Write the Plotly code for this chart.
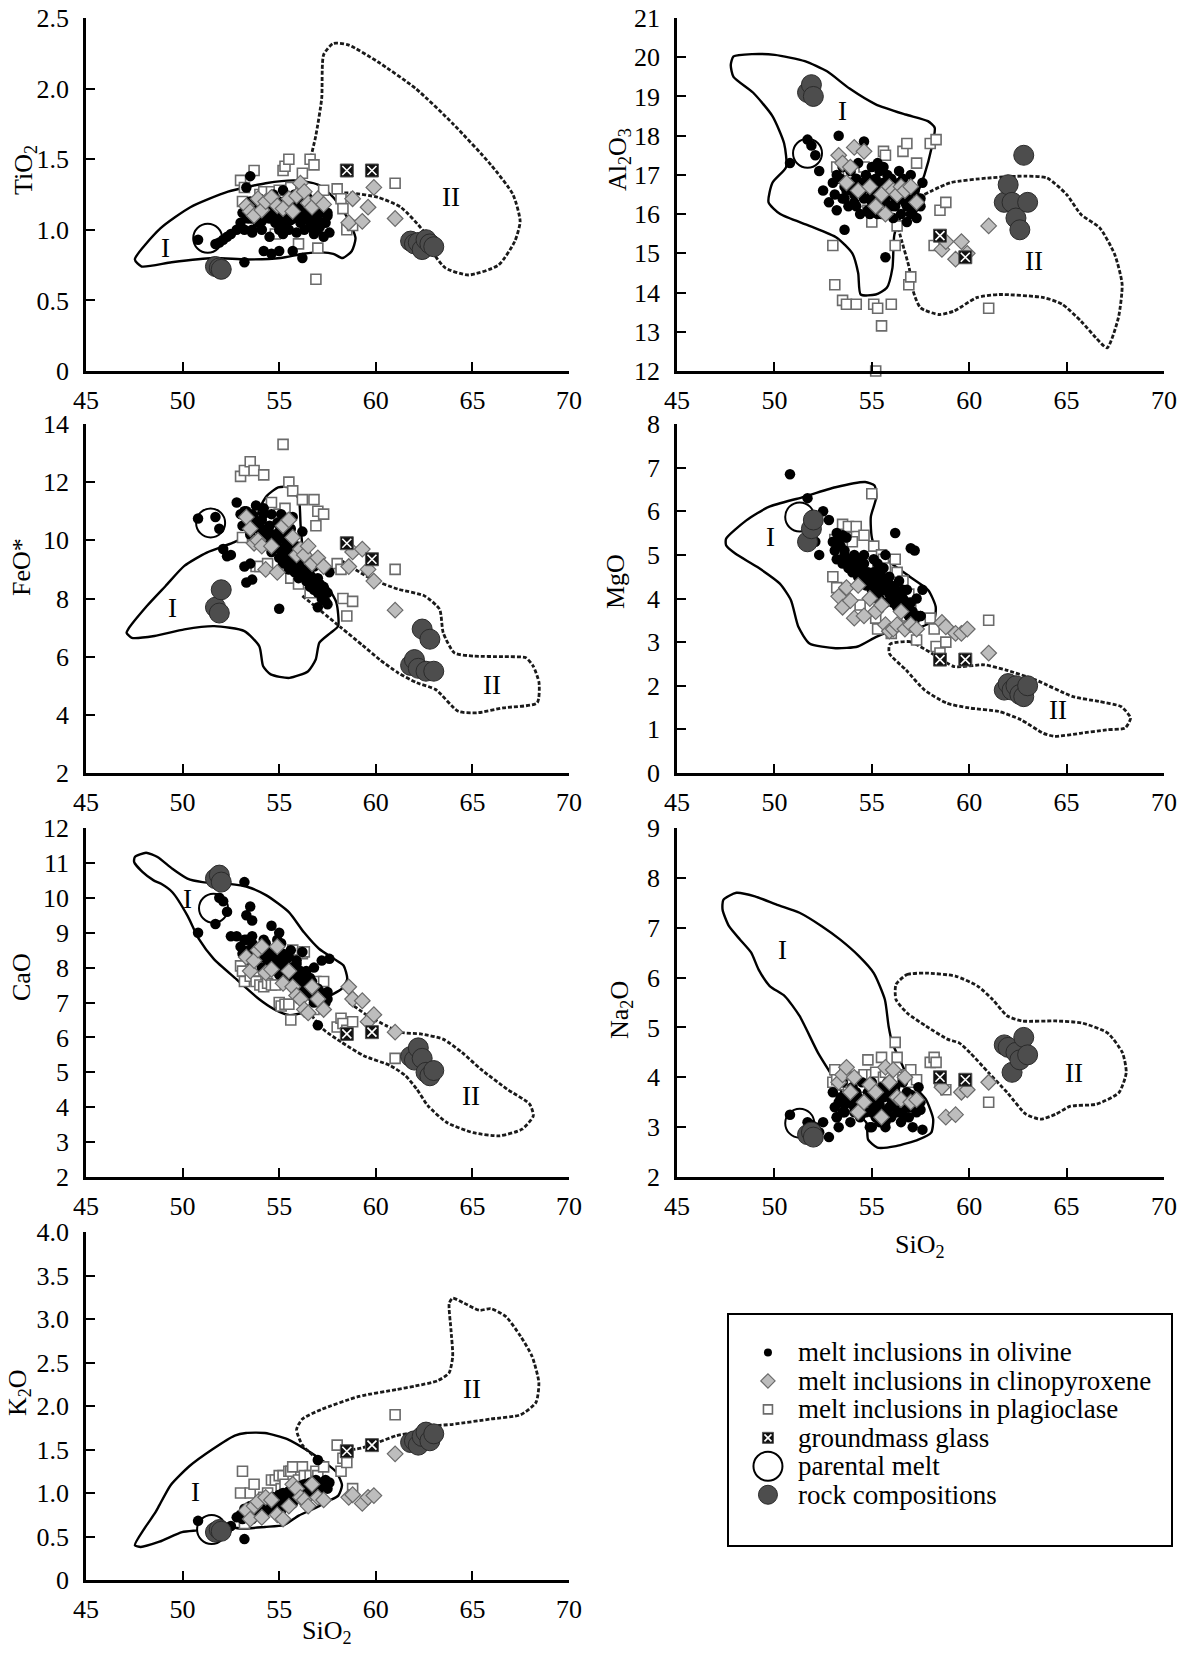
import plotly.graph_objects as go

W, H = 1181, 1657
SERIF = "Liberation Serif"

# ---------------- axis texts / ticks ----------------
Y_TITLES = ["TiO<sub>2</sub>", "Al<sub>2</sub>O<sub>3</sub>", "FeO*", "MgO", "CaO",
            "Na<sub>2</sub>O", "K<sub>2</sub>O"]
X_TITLE = "SiO<sub>2</sub>"
X_TICKS = [45, 50, 55, 60, 65, 70]
Y_TICKS = [
    [0, 0.5, 1.0, 1.5, 2.0, 2.5],
    [12, 13, 14, 15, 16, 17, 18, 19, 20, 21],
    [2, 4, 6, 8, 10, 12, 14],
    [0, 1, 2, 3, 4, 5, 6, 7, 8],
    [2, 3, 4, 5, 6, 7, 8, 9, 10, 11, 12],
    [2, 3, 4, 5, 6, 7, 8, 9],
    [0, 0.5, 1.0, 1.5, 2.0, 2.5, 3.0, 3.5, 4.0],
]
Y_TICKTEXT = [
    ["0", "0.5", "1.0", "1.5", "2.0", "2.5"],
    ["12", "13", "14", "15", "16", "17", "18", "19", "20", "21"],
    ["2", "4", "6", "8", "10", "12", "14"],
    ["0", "1", "2", "3", "4", "5", "6", "7", "8"],
    ["2", "3", "4", "5", "6", "7", "8", "9", "10", "11", "12"],
    ["2", "3", "4", "5", "6", "7", "8", "9"],
    ["0", "0.5", "1.0", "1.5", "2.0", "2.5", "3.0", "3.5", "4.0"],
]

# ---------------- analyses (wt.%) ----------------
# columns: SiO2, TiO2, Al2O3, FeO*, MgO, CaO, Na2O, K2O
OLIVINE_MI = [
    (50.8, 0.93, 17.3, 10.75, 6.85, 9.0, 3.25, 0.68),
    (51.7, 0.90, 17.9, 10.8, 6.3, 9.25, 3.1, 0.6),
    (51.9, 0.91, 17.75, 10.4, 5.9, 10.0, 3.05, 0.55),
    (52.1, 0.93, 17.5, 9.7, 5.3, 9.9, 3.0, 0.6),
    (52.3, 0.95, 17.1, 9.45, 5.0, 9.6, 2.9, 0.58),
    (52.5, 0.97, 16.6, 9.5, 6.0, 8.9, 3.1, 0.62),
    (52.8, 1.0, 16.3, 11.3, 5.8, 8.9, 2.8, 0.72),
    (53.2, 0.77, 16.1, 9.1, 5.5, 10.45, 3.2, 0.47),
    (53.3, 1.30, 18.0, 8.55, 5.4, 9.5, 3.0, 0.8),
    (53.5, 1.38, 17.2, 9.2, 5.45, 9.75, 3.3, 0.85),
    (53.6, 1.0, 15.6, 8.65, 4.9, 9.35, 3.5, 0.7),
    (54.2, 0.85, 16.9, 11.1, 4.8, 8.8, 3.6, 0.78),
    (54.6, 0.83, 17.85, 10.9, 5.0, 9.2, 3.3, 0.9),
    (55.0, 0.85, 16.5, 7.65, 4.3, 9.0, 3.0, 0.95),
    (55.7, 0.85, 14.9, 10.8, 5.0, 8.0, 3.1, 0.88),
    (56.2, 0.80, 16.2, 10.3, 5.5, 8.45, 3.7, 1.05),
    (57.0, 1.0, 16.0, 7.7, 5.15, 6.35, 3.4, 1.38),
    (57.2, 1.05, 16.3, 8.3, 5.1, 8.2, 3.6, 1.1),
    (57.6, 0.98, 16.8, 8.9, 4.2, 8.25, 2.95, 1.12),
    (57.5, 1.1, 16.4, 7.8, 3.6, 7.3, 3.5, 1.05),
    (53.0, 1.05, 16.8, 10.9, 5.3, 8.6, 3.7, 0.75),
    (53.1, 1.12, 16.5, 10.5, 5.1, 8.4, 3.4, 0.7),
    (53.2, 1.0, 17.0, 11.0, 4.9, 8.8, 3.2, 0.82),
    (53.4, 1.08, 16.9, 10.6, 5.2, 8.5, 3.6, 0.76),
    (53.5, 1.2, 16.4, 10.2, 4.8, 8.2, 3.9, 0.8),
    (53.6, 0.98, 16.7, 10.8, 5.0, 8.9, 3.3, 0.72),
    (53.8, 1.15, 16.2, 11.2, 4.7, 8.6, 3.5, 0.85),
    (53.9, 1.05, 17.1, 10.4, 4.9, 8.3, 3.1, 0.78),
    (54.0, 1.22, 16.6, 10.1, 4.6, 8.5, 3.8, 0.9),
    (54.1, 1.0, 16.3, 10.7, 5.0, 8.0, 3.4, 0.82),
    (54.3, 1.1, 17.3, 10.3, 4.5, 8.7, 3.6, 0.88),
    (54.4, 1.18, 16.0, 9.9, 4.7, 8.2, 3.2, 0.8),
    (54.5, 0.95, 16.8, 10.5, 4.4, 8.4, 3.9, 0.92),
    (54.6, 1.12, 16.4, 9.6, 4.8, 7.9, 3.5, 0.86),
    (54.7, 1.25, 17.0, 10.2, 4.3, 8.3, 3.3, 0.95),
    (54.8, 1.05, 16.1, 9.8, 4.6, 8.1, 3.7, 0.88),
    (54.9, 1.15, 16.7, 10.0, 4.4, 8.6, 3.0, 0.9),
    (55.0, 1.0, 16.3, 9.4, 4.5, 7.8, 3.6, 0.98),
    (55.0, 1.2, 17.2, 10.3, 4.2, 8.2, 3.9, 0.85),
    (55.1, 1.1, 16.5, 9.7, 4.6, 8.0, 3.4, 0.92),
    (55.2, 1.28, 16.9, 9.2, 4.3, 7.7, 3.2, 1.0),
    (55.2, 0.97, 16.2, 10.1, 4.1, 8.4, 3.7, 0.88),
    (55.3, 1.13, 16.6, 9.5, 4.4, 8.1, 3.5, 0.95),
    (55.4, 1.05, 17.1, 9.9, 4.0, 7.9, 3.1, 0.9),
    (55.5, 1.22, 16.4, 9.0, 4.5, 8.3, 3.8, 1.02),
    (55.5, 1.0, 16.0, 9.6, 4.2, 7.6, 3.3, 0.92),
    (55.6, 1.16, 16.8, 9.3, 4.3, 8.0, 3.6, 0.98),
    (55.7, 1.08, 16.3, 9.8, 3.9, 7.8, 3.0, 1.0),
    (55.8, 1.25, 17.0, 8.9, 4.4, 7.5, 3.9, 0.95),
    (55.9, 0.98, 16.5, 9.4, 4.1, 8.2, 3.4, 1.05),
    (56.0, 1.12, 16.2, 9.1, 4.0, 7.7, 3.7, 1.0),
    (56.0, 1.2, 16.9, 8.7, 4.3, 7.4, 3.2, 0.95),
    (56.1, 1.05, 15.9, 9.3, 3.9, 7.9, 3.5, 1.08),
    (56.2, 1.18, 16.6, 8.8, 4.2, 7.6, 3.8, 1.02),
    (56.3, 1.0, 16.4, 9.0, 3.8, 7.3, 3.3, 1.1),
    (56.4, 1.1, 17.1, 8.6, 4.1, 7.8, 3.6, 1.0),
    (56.5, 1.22, 16.0, 8.9, 3.7, 7.5, 3.1, 1.05),
    (56.6, 1.05, 16.7, 8.4, 4.0, 7.2, 3.9, 1.12),
    (56.7, 1.15, 16.3, 8.7, 3.8, 7.6, 3.4, 1.08),
    (56.8, 0.97, 15.8, 8.3, 4.2, 7.0, 3.7, 1.0),
    (56.9, 1.1, 16.5, 8.6, 3.6, 7.4, 3.2, 1.15),
    (57.0, 1.2, 17.0, 8.2, 3.9, 7.1, 3.5, 1.1),
    (57.1, 1.02, 16.1, 8.5, 3.7, 7.3, 3.0, 1.05),
    (57.2, 1.12, 16.6, 8.0, 3.5, 6.9, 3.6, 1.12),
    (57.3, 0.95, 15.9, 8.4, 4.0, 7.2, 3.3, 1.08),
    (57.4, 1.05, 16.4, 7.9, 3.6, 7.0, 3.8, 1.15),
    (53.3, 1.1, 16.9, 11.0, 5.3, 8.8, 3.5, 0.78),
    (54.2, 1.2, 16.2, 10.9, 4.9, 8.6, 3.7, 0.85),
    (55.3, 1.02, 17.3, 10.0, 4.8, 8.3, 3.2, 0.9),
    (56.4, 1.25, 16.8, 9.5, 4.4, 7.9, 3.6, 0.98),
    (54.9, 1.08, 16.0, 10.6, 4.0, 8.8, 3.5, 0.8),
    (55.6, 1.14, 17.2, 10.4, 4.7, 8.5, 3.1, 0.88),
    (56.8, 1.06, 16.2, 9.1, 3.9, 8.0, 3.4, 1.02),
    (53.7, 1.13, 16.6, 10.0, 5.4, 8.3, 3.6, 0.74),
    (55.1, 1.0, 16.7, 10.9, 4.9, 8.7, 3.8, 0.8),
    (54.5, 1.08, 16.6, 10.2, 4.6, 8.2, 3.4, 0.86),
    (54.8, 1.13, 16.9, 9.9, 4.5, 8.0, 3.6, 0.9),
    (55.0, 1.06, 16.5, 9.7, 4.4, 8.1, 3.3, 0.93),
    (55.2, 1.15, 16.7, 9.6, 4.6, 7.9, 3.55, 0.95),
    (55.4, 1.1, 16.4, 9.4, 4.3, 8.0, 3.45, 0.97),
    (55.6, 1.07, 16.6, 9.2, 4.2, 7.7, 3.65, 1.0),
    (55.8, 1.12, 16.8, 9.6, 4.3, 7.8, 3.35, 0.96),
    (56.0, 1.09, 16.5, 9.0, 4.1, 7.5, 3.55, 1.02),
    (56.2, 1.14, 16.3, 8.9, 4.0, 7.4, 3.45, 1.05),
    (56.5, 1.08, 16.6, 8.7, 3.9, 7.6, 3.6, 1.07),
    (53.9, 1.12, 16.8, 10.6, 4.8, 8.4, 3.5, 0.8),
    (54.1, 1.06, 16.5, 10.4, 4.7, 8.3, 3.3, 0.83),
    (54.3, 1.16, 16.7, 10.0, 4.9, 8.5, 3.55, 0.87),
    (56.8, 1.12, 16.5, 8.5, 3.8, 7.2, 3.4, 1.08),
    (57.0, 1.06, 16.3, 8.7, 3.7, 7.4, 3.65, 1.1),
    (57.5, 1.12, 16.2, 8.2, 3.6, 7.1, 3.35, 1.12),
    (53.6, 1.08, 16.4, 10.9, 5.1, 8.7, 3.45, 0.78),
    (55.9, 1.18, 16.2, 9.8, 4.5, 8.1, 3.7, 0.98),
    (56.6, 1.02, 16.9, 9.2, 4.2, 7.7, 3.25, 1.02),
    (55.3, 1.2, 16.0, 10.2, 4.0, 7.6, 3.75, 0.93),
]

CPX_MI = [
    (53.3, 1.17, 17.5, 10.8, 4.05, 8.3, 3.9, 0.8),
    (53.5, 1.13, 17.3, 10.4, 3.8, 7.9, 4.05, 0.7),
    (53.7, 1.10, 16.8, 9.9, 4.25, 8.2, 4.2, 0.85),
    (53.9, 1.22, 17.2, 10.0, 3.95, 8.5, 3.7, 0.9),
    (54.1, 1.14, 17.7, 9.8, 3.55, 8.6, 4.0, 0.72),
    (54.3, 1.20, 16.6, 9.0, 4.3, 7.85, 3.3, 0.95),
    (54.6, 1.23, 17.6, 9.8, 3.6, 7.95, 3.5, 0.92),
    (54.9, 1.17, 16.7, 8.9, 4.0, 8.6, 3.85, 0.75),
    (55.2, 1.15, 16.2, 10.5, 3.7, 7.55, 3.7, 0.7),
    (55.5, 1.22, 16.5, 10.7, 3.85, 7.9, 3.2, 0.85),
    (55.7, 1.13, 16.0, 10.1, 3.4, 7.45, 4.2, 1.1),
    (55.9, 1.24, 16.7, 9.5, 3.25, 7.2, 3.9, 1.05),
    (56.1, 1.33, 16.6, 9.7, 3.3, 7.1, 4.15, 0.95),
    (56.3, 1.27, 16.5, 9.5, 3.4, 6.8, 3.6, 0.92),
    (56.5, 1.19, 16.7, 9.8, 3.7, 6.7, 3.55, 0.85),
    (56.7, 1.16, 16.6, 9.2, 3.3, 7.45, 4.0, 1.1),
    (57.0, 1.22, 16.7, 9.4, 3.4, 7.1, 3.5, 0.95),
    (57.3, 1.18, 16.3, 9.1, 3.3, 6.8, 3.55, 0.92),
    (58.6, 1.05, 15.1, 9.1, 3.45, 7.45, 3.8, 0.95),
    (58.8, 1.22, 15.3, 9.6, 3.35, 7.1, 3.2, 0.98),
    (59.3, 1.06, 14.85, 9.7, 3.2, 7.05, 3.25, 0.88),
    (59.6, 1.16, 15.3, 9.0, 3.2, 6.45, 3.7, 0.95),
    (59.9, 1.30, 15.0, 8.6, 3.3, 6.65, 3.75, 0.97),
    (61.0, 1.08, 15.7, 7.6, 2.75, 6.15, 3.9, 1.45),
]

PLAG_MI = [
    (53.0, 1.35, 15.2, 12.2, 4.5, 8.05, 3.9, 1.0),
    (53.1, 1.20, 14.2, 10.1, 5.35, 7.9, 4.15, 1.25),
    (53.2, 1.30, 17.2, 12.4, 4.25, 7.6, 3.95, 0.65),
    (53.5, 1.15, 13.8, 12.7, 5.7, 7.75, 3.85, 1.0),
    (53.7, 1.42, 13.7, 12.4, 5.4, 7.9, 4.0, 1.1),
    (53.8, 1.10, 17.0, 9.1, 5.65, 7.6, 3.7, 0.85),
    (54.0, 1.25, 16.9, 9.1, 5.3, 7.5, 3.85, 0.9),
    (54.2, 1.27, 13.7, 12.25, 5.65, 7.45, 4.0, 0.95),
    (54.4, 1.20, 17.1, 9.2, 3.85, 7.55, 3.6, 1.0),
    (54.6, 1.27, 17.2, 11.3, 5.45, 7.5, 4.05, 1.15),
    (54.8, 0.97, 16.1, 10.0, 4.8, 7.5, 4.35, 1.15),
    (55.0, 1.28, 15.8, 10.9, 6.4, 7.0, 4.05, 1.2),
    (55.1, 1.15, 13.7, 10.6, 5.2, 6.9, 3.45, 1.05),
    (55.2, 1.42, 12.0, 13.3, 3.55, 8.2, 4.1, 1.2),
    (55.3, 1.45, 13.6, 11.1, 3.3, 6.95, 3.9, 1.1),
    (55.5, 1.50, 13.15, 12.0, 5.0, 6.95, 4.4, 1.25),
    (55.6, 1.30, 17.6, 8.7, 4.9, 6.5, 4.0, 1.25),
    (55.7, 1.20, 17.5, 11.7, 4.7, 8.5, 4.1, 1.3),
    (56.0, 0.90, 13.7, 8.5, 3.2, 7.3, 3.8, 1.15),
    (56.2, 1.40, 15.2, 11.4, 4.9, 8.4, 4.7, 1.3),
    (56.3, 1.15, 15.7, 9.3, 4.6, 8.45, 4.4, 1.2),
    (56.6, 1.50, 17.6, 8.2, 4.4, 7.0, 4.0, 1.2),
    (56.8, 1.46, 17.8, 11.4, 3.6, 6.8, 4.05, 1.1),
    (56.9, 0.65, 14.2, 10.5, 4.1, 7.6, 3.9, 1.25),
    (57.0, 0.87, 14.4, 11.0, 3.9, 7.3, 4.15, 1.2),
    (57.3, 1.28, 17.3, 10.9, 3.05, 7.6, 3.95, 1.3),
    (58.0, 1.29, 17.8, 9.2, 3.55, 6.3, 4.3, 1.55),
    (58.2, 1.22, 15.2, 9.0, 3.3, 6.55, 4.4, 1.25),
    (58.3, 1.15, 17.9, 8.0, 2.9, 6.4, 4.3, 1.4),
    (58.5, 1.00, 16.1, 7.4, 2.75, 6.2, 3.9, 1.35),
    (58.8, 1.03, 16.3, 7.9, 3.0, 6.45, 3.75, 1.05),
    (61.0, 1.33, 13.6, 9.0, 3.5, 5.4, 3.5, 1.9),
]

GROUNDMASS = [
    (58.5, 1.42, 15.45, 9.9, 2.6, 6.1, 4.0, 1.48),
    (59.8, 1.42, 14.9, 9.35, 2.6, 6.15, 3.95, 1.55),
]

ROCKS = [
    (51.7, 0.74, 19.1, 7.7, 5.3, 10.55, 2.85, 0.55),
    (51.9, 0.73, 19.3, 7.5, 5.6, 10.65, 2.9, 0.58),
    (52.0, 0.72, 19.0, 8.3, 5.8, 10.45, 2.8, 0.56),
    (61.8, 0.92, 16.3, 5.7, 1.9, 5.45, 4.65, 1.58),
    (62.0, 0.90, 16.75, 5.9, 2.05, 5.35, 4.6, 1.6),
    (62.2, 0.91, 16.3, 5.6, 1.9, 5.7, 4.1, 1.55),
    (62.4, 0.86, 15.9, 6.95, 2.0, 5.4, 4.5, 1.65),
    (62.6, 0.93, 15.6, 5.5, 1.8, 5.0, 4.35, 1.7),
    (62.8, 0.90, 17.5, 6.6, 1.75, 4.9, 4.8, 1.6),
    (63.0, 0.88, 16.3, 5.5, 2.0, 5.05, 4.45, 1.68),
]

# parental melt as plotted in each panel (SiO2, oxide), panel order as Y_TITLES
PARENT_SIO2 = [51.3, 51.7, 51.45, 51.3, 51.6, 51.3, 51.5]
PARENT_OXIDE = [0.94, 17.55, 10.6, 5.87, 9.7, 3.08, 0.58]

# ---------------- compositional fields I (solid) and II (dotted) ----------------
TIO2_FIELD_I = [(47.53, 0.79), (48.85, 1.01), (50.4, 1.16), (52.35, 1.27), (54.3, 1.33), (55.85, 1.35),
                (57.0, 1.32), (57.8, 1.23), (58.55, 1.08), (58.95, 0.94), (58.76, 0.85), (58.28, 0.80),
                (57.8, 0.83), (57.2, 0.84), (56.24, 0.83), (55.07, 0.80), (53.3, 0.79), (51.57, 0.80),
                (49.43, 0.77), (47.88, 0.74), (47.53, 0.79)]
TIO2_FIELD_II = [(56.63, 1.51), (56.9, 1.67), (57.2, 1.93), (57.3, 2.24), (57.8, 2.32), (58.57, 2.31),
                 (60.1, 2.19), (62.07, 2.0), (64.0, 1.75), (65.96, 1.46), (67.1, 1.25), (67.47, 1.06),
                 (67.2, 0.92), (66.35, 0.75), (64.8, 0.68), (63.6, 0.73), (63.0, 0.83), (62.46, 0.99),
                 (61.29, 1.16), (60.12, 1.23), (58.76, 1.26), (57.8, 1.26)]
AL2O3_FIELD_I = [(47.9, 20.02), (48.87, 20.08), (50.02, 20.06), (51.56, 19.9), (52.7, 19.64), (53.86, 19.2),
                 (55.2, 18.8), (56.73, 18.54), (57.88, 18.37), (58.23, 18.2), (58.07, 17.69), (57.7, 17.0),
                 (57.3, 16.5), (56.54, 15.99), (56.16, 15.48), (56.06, 14.63), (55.77, 14.12), (55.2, 13.95),
                 (54.43, 13.95), (54.3, 14.5), (54.0, 15.0), (53.2, 15.4), (51.8, 15.7), (50.3, 16.0),
                 (49.7, 16.3), (49.9, 16.8), (50.6, 17.2), (50.5, 17.8), (49.9, 18.5), (48.9, 19.1),
                 (47.9, 19.5), (47.76, 19.8), (47.9, 20.02)]
AL2O3_FIELD_II = [(57.7, 16.5), (59.03, 16.8), (60.95, 16.92), (62.87, 16.97), (64.0, 16.92), (65.0, 16.5),
                  (65.74, 15.99), (66.7, 15.65), (67.47, 14.97), (67.85, 14.21), (67.66, 13.36), (67.08, 12.59),
                  (66.5, 12.85), (65.74, 13.27), (64.78, 13.7), (63.83, 13.87), (61.53, 13.95), (60.38, 13.87),
                  (59.23, 13.53), (58.46, 13.44), (57.5, 13.61), (57.12, 14.04), (56.92, 14.63), (56.54, 15.31),
                  (56.35, 15.65)]
FEO_FIELD_I = [(47.18, 6.94), (48.15, 7.74), (49.12, 8.43), (50.09, 9.12), (51.25, 9.58), (52.61, 9.92),
               (53.59, 10.27), (53.97, 11.07), (54.36, 11.53), (54.95, 11.82), (55.53, 11.82), (56.01, 11.42),
               (56.11, 10.5), (56.31, 9.35), (56.89, 8.78), (57.47, 8.43), (57.96, 7.86), (58.05, 7.05),
               (57.66, 6.82), (57.08, 6.48), (56.89, 5.9), (56.5, 5.5), (55.53, 5.27), (54.56, 5.39),
               (54.17, 5.67), (53.97, 6.36), (53.2, 6.88), (51.64, 7.05), (50.09, 6.94), (48.54, 6.71),
               (47.37, 6.65), (47.1, 6.82), (47.18, 6.94)]
FEO_FIELD_II = [(56.2, 8.09), (57.2, 7.55), (58.2, 7.0), (59.3, 6.4), (60.2, 5.9), (61.16, 5.44), (62.13, 5.1),
                (63.1, 4.87), (64.27, 4.12), (65.24, 4.07), (66.6, 4.24), (68.35, 4.41), (68.45, 5.1),
                (68.15, 5.67), (67.77, 5.96), (66.6, 6.0), (65.05, 6.02), (64.07, 6.13), (63.49, 6.82),
                (63.3, 7.63), (62.52, 8.09), (61.16, 8.32), (59.8, 8.66), (58.64, 9.12), (58.25, 9.29)]
MGO_FIELD_I = [(47.52, 5.37), (48.56, 5.79), (49.71, 6.1), (51.42, 6.32), (53.14, 6.55), (54.66, 6.67),
               (55.14, 6.59), (55.23, 6.32), (54.95, 5.87), (55.04, 5.33), (55.8, 4.88), (56.95, 4.5),
               (57.9, 4.19), (58.28, 3.81), (58.19, 3.5), (57.52, 3.35), (56.19, 3.28), (55.23, 3.12),
               (54.28, 2.9), (53.14, 2.86), (51.8, 2.97), (51.23, 3.35), (50.85, 3.96), (50.28, 4.34),
               (49.13, 4.72), (47.99, 5.03), (47.52, 5.22), (47.52, 5.37)]
MGO_FIELD_II = [(55.99, 2.97), (56.95, 3.01), (58.09, 2.74), (59.23, 2.44), (60.76, 2.48), (61.9, 2.36),
                (63.43, 2.13), (65.33, 1.75), (66.67, 1.64), (67.81, 1.52), (68.28, 1.26), (68.0, 1.03),
                (67.05, 0.99), (65.71, 0.91), (64.38, 0.84), (63.81, 0.91), (62.66, 1.22), (61.52, 1.41),
                (60.0, 1.49), (58.85, 1.6), (57.71, 1.9), (56.76, 2.36), (55.9, 2.74), (55.9, 2.93),
                (55.99, 2.97)]
CAO_FIELD_I = [(47.53, 11.17), (48.11, 11.29), (48.7, 11.17), (49.47, 10.83), (50.25, 10.55), (51.03, 10.45),
               (52.39, 10.4), (53.37, 10.31), (54.34, 10.07), (55.5, 9.59), (56.28, 9.01), (57.06, 8.54),
               (57.84, 8.25), (58.33, 8.06), (58.52, 7.67), (58.23, 7.39), (57.65, 7.2), (57.06, 7.0),
               (56.28, 6.72), (55.5, 6.64), (54.73, 6.81), (53.95, 7.1), (52.78, 7.67), (51.61, 8.25),
               (50.84, 8.82), (50.25, 9.49), (49.47, 10.16), (48.89, 10.4), (48.5, 10.5), (47.92, 10.74),
               (47.49, 11.03), (47.53, 11.17)]
CAO_FIELD_II = [(56.48, 6.77), (57.26, 6.24), (58.23, 5.86), (59.4, 5.47), (60.76, 5.19), (61.54, 4.9),
                (62.12, 4.52), (62.7, 4.04), (63.68, 3.56), (65.04, 3.27), (66.4, 3.18), (67.57, 3.37),
                (68.15, 3.75), (67.96, 4.09), (66.79, 4.52), (65.43, 5.09), (64.46, 5.57), (63.48, 5.95),
                (62.32, 6.1), (61.34, 6.14), (60.56, 6.33), (59.59, 6.62), (58.62, 7.0)]
NA2O_FIELD_I = [(47.38, 7.56), (48.05, 7.7), (49.0, 7.63), (50.14, 7.46), (51.29, 7.3), (52.43, 7.03),
                (53.38, 6.76), (54.34, 6.43), (55.1, 6.09), (55.67, 5.56), (55.86, 5.03), (56.05, 4.69),
                (56.43, 4.36), (57.0, 3.89), (57.77, 3.56), (58.15, 3.16), (58.05, 2.89), (57.39, 2.75),
                (56.24, 2.62), (55.29, 2.59), (54.81, 2.75), (54.72, 3.09), (53.96, 3.36), (53.19, 3.89),
                (52.24, 4.49), (51.29, 5.23), (50.53, 5.63), (49.76, 5.83), (49.19, 6.16), (48.81, 6.5),
                (48.24, 6.76), (47.67, 7.03), (47.34, 7.36), (47.38, 7.56)]
NA2O_FIELD_II = [(56.24, 5.86), (56.81, 6.06), (57.77, 6.09), (59.29, 6.03), (60.43, 5.83), (61.2, 5.56),
                 (61.96, 5.23), (62.72, 5.13), (64.44, 5.13), (65.77, 5.09), (67.1, 4.89), (67.87, 4.49),
                 (68.06, 4.09), (67.68, 3.69), (66.53, 3.46), (65.2, 3.42), (64.44, 3.26), (63.67, 3.16),
                 (62.91, 3.26), (61.96, 3.69), (61.0, 4.09), (60.05, 4.49), (59.48, 4.69), (58.91, 4.76),
                 (57.77, 5.03), (56.81, 5.29), (56.24, 5.56), (56.24, 5.86)]
K2O_FIELD_I = [(47.53, 0.4), (48.02, 0.59), (48.6, 0.78), (48.8, 0.86), (49.38, 1.09), (50.36, 1.31),
               (51.53, 1.5), (52.7, 1.66), (53.28, 1.69), (54.26, 1.69), (55.42, 1.62), (56.59, 1.47),
               (57.37, 1.35), (57.96, 1.24), (58.25, 1.09), (58.06, 0.97), (57.57, 0.91), (56.98, 0.84),
               (56.01, 0.74), (55.23, 0.63), (54.26, 0.61), (53.09, 0.59), (52.31, 0.61), (51.53, 0.59),
               (50.75, 0.57), (49.97, 0.55), (48.8, 0.44), (47.83, 0.38), (47.53, 0.4)]
K2O_FIELD_II = [(56.98, 1.39), (56.2, 1.55), (55.9, 1.73), (56.2, 1.85), (57.18, 1.96), (59.13, 2.11),
                (61.08, 2.19), (62.05, 2.23), (63.2, 2.29), (63.79, 2.38), (63.98, 2.57), (63.89, 2.88),
                (63.8, 3.18), (63.98, 3.24), (64.58, 3.18), (65.36, 3.1), (65.94, 3.12), (66.72, 3.03),
                (67.5, 2.8), (68.09, 2.57), (68.44, 2.27), (68.29, 2.04), (67.5, 1.9), (65.94, 1.85),
                (64.0, 1.79), (63.02, 1.77), (62.05, 1.7), (61.08, 1.66), (60.1, 1.58), (59.32, 1.52),
                (58.54, 1.49)]

FIELDS_I = [TIO2_FIELD_I, AL2O3_FIELD_I, FEO_FIELD_I, MGO_FIELD_I, CAO_FIELD_I, NA2O_FIELD_I, K2O_FIELD_I]
FIELDS_II = [TIO2_FIELD_II, AL2O3_FIELD_II, FEO_FIELD_II, MGO_FIELD_II, CAO_FIELD_II, NA2O_FIELD_II, K2O_FIELD_II]
LABEL_I_POS = [(49.14, 0.87), (53.5, 18.62), (49.5, 7.68), (49.8, 5.41), (50.25, 9.97), (50.43, 6.56), (50.65, 1.01)]
LABEL_II_POS = [(63.9, 1.23), (63.35, 14.8), (66.0, 5.04), (64.57, 1.45), (64.94, 4.33), (65.39, 4.09), (64.97, 2.19)]

LEGEND_LABELS = ["melt inclusions in olivine", "melt inclusions in clinopyroxene",
                 "melt inclusions in plagioclase", "groundmass glass", "parental melt", "rock compositions"]

# ---------------- layout geometry (pixels) ----------------
COL_PX = [(86, 569), (677, 1164)]
ROW_PX = [(18, 371), (424, 773), (828, 1177), (1232, 1580)]
YTITLE_PX = [(25, 170), (619, 160), (21, 567), (615, 582), (21, 977), (621, 1010), (19, 1392)]
XTITLE_PX = {5: (920, 1246), 6: (327, 1632)}
LEGEND_BOX_PX = (728, 1314, 1172, 1546)

# ---------------- marker styles ----------------
ST_OL = dict(symbol="circle", size=10.5, color="black", line=dict(width=0))
ST_CPX = dict(symbol="diamond", size=12, color="#bdbdbd", line=dict(color="#6a6a6a", width=1.2))
ST_PL = dict(symbol="square", size=10, color="white", line=dict(color="#6b6b6b", width=1.6))
ST_GM = dict(symbol="square", size=13, color="#111111", line=dict(color="#555555", width=1))
ST_GMX = dict(symbol="x-thin-open", size=9, color="white", line=dict(color="white", width=1.6))
ST_PM = dict(symbol="circle", size=29, color="white", line=dict(color="black", width=2))
ST_RK = dict(symbol="circle", size=20, color="#4d4d4d", line=dict(color="#2b2b2b", width=1))


def col(rows, j):
    return [r[j] for r in rows]


def px_x(v):
    return v / W


def px_y(v):
    return 1 - v / H


fig = go.Figure()
axes = {}
annotations = []

AXIS_STYLE = dict(showline=True, linecolor="black", linewidth=2.5, ticks="inside", ticklen=9,
                  tickwidth=2, tickcolor="black", showgrid=False, zeroline=False, automargin=False,
                  tickfont=dict(family=SERIF, size=26, color="black"))

for i in range(7):
    k = i + 1
    r, c = divmod(i, 2)
    xa = "x" if k == 1 else f"x{k}"
    ya = "y" if k == 1 else f"y{k}"
    xkey = "xaxis" if k == 1 else f"xaxis{k}"
    ykey = "yaxis" if k == 1 else f"yaxis{k}"
    x0, x1 = COL_PX[c]
    t, b = ROW_PX[r]
    axes[xkey] = dict(domain=[px_x(x0), px_x(x1)], range=[45, 70], anchor=ya,
                      tickvals=X_TICKS, ticktext=[str(v) for v in X_TICKS],
                      ticklabelstandoff=4, **AXIS_STYLE)
    axes[ykey] = dict(domain=[px_y(b), px_y(t)], range=[Y_TICKS[i][0], Y_TICKS[i][-1]], anchor=xa,
                      tickvals=Y_TICKS[i], ticktext=Y_TICKTEXT[i], ticklabelstandoff=9, **AXIS_STYLE)

    j = i + 1  # column of this oxide in the analysis tables
    fI = FIELDS_I[i]
    fII = FIELDS_II[i]
    fig.add_trace(go.Scatter(x=[p[0] for p in fI], y=[p[1] for p in fI], mode="lines",
                             line=dict(color="black", width=2.4, shape="spline", smoothing=0.6),
                             xaxis=xa, yaxis=ya, hoverinfo="skip"))
    fig.add_trace(go.Scatter(x=[p[0] for p in fII], y=[p[1] for p in fII], mode="lines",
                             line=dict(color="#1a1a1a", width=2.8, dash="4px,2px", shape="spline", smoothing=0.6),
                             xaxis=xa, yaxis=ya, hoverinfo="skip"))
    fig.add_trace(go.Scatter(x=[PARENT_SIO2[i]], y=[PARENT_OXIDE[i]], mode="markers", marker=ST_PM,
                             xaxis=xa, yaxis=ya, cliponaxis=False))
    fig.add_trace(go.Scatter(x=col(PLAG_MI, 0), y=col(PLAG_MI, j), mode="markers", marker=ST_PL,
                             xaxis=xa, yaxis=ya, cliponaxis=False))
    fig.add_trace(go.Scatter(x=col(OLIVINE_MI, 0), y=col(OLIVINE_MI, j), mode="markers", marker=ST_OL,
                             xaxis=xa, yaxis=ya, cliponaxis=False))
    fig.add_trace(go.Scatter(x=col(CPX_MI, 0), y=col(CPX_MI, j), mode="markers", marker=ST_CPX,
                             xaxis=xa, yaxis=ya, cliponaxis=False))
    fig.add_trace(go.Scatter(x=col(GROUNDMASS, 0), y=col(GROUNDMASS, j), mode="markers", marker=ST_GM,
                             xaxis=xa, yaxis=ya, cliponaxis=False))
    fig.add_trace(go.Scatter(x=col(GROUNDMASS, 0), y=col(GROUNDMASS, j), mode="markers", marker=ST_GMX,
                             xaxis=xa, yaxis=ya, cliponaxis=False))
    fig.add_trace(go.Scatter(x=col(ROCKS, 0), y=col(ROCKS, j), mode="markers", marker=ST_RK,
                             xaxis=xa, yaxis=ya, cliponaxis=False))

    for txt, pos in (("I", LABEL_I_POS[i]), ("II", LABEL_II_POS[i])):
        annotations.append(dict(x=pos[0], y=pos[1], xref=xa, yref=ya, text=txt, showarrow=False,
                                font=dict(family=SERIF, size=27, color="black")))
    tx, ty = YTITLE_PX[i]
    annotations.append(dict(x=px_x(tx), y=px_y(ty), xref="paper", yref="paper", text=Y_TITLES[i],
                            textangle=-90, showarrow=False, xanchor="center", yanchor="middle",
                            font=dict(family=SERIF, size=26, color="black")))
    if i in XTITLE_PX:
        sx, sy = XTITLE_PX[i]
        annotations.append(dict(x=px_x(sx), y=px_y(sy), xref="paper", yref="paper", text=X_TITLE,
                                showarrow=False, xanchor="center", yanchor="middle",
                                font=dict(family=SERIF, size=26, color="black")))

# ---------------- legend (own hidden axes) ----------------
lx0, ly0, lx1, ly1 = LEGEND_BOX_PX
axes["xaxis8"] = dict(domain=[px_x(lx0), px_x(lx1)], range=[0, 1], visible=False, anchor="y8",
                      automargin=False)
axes["yaxis8"] = dict(domain=[px_y(ly1), px_y(ly0)], range=[6.8, -1.35], visible=False, anchor="x8",
                      automargin=False)
LEGEND_STYLES = [
    [dict(ST_OL, size=8)],
    [dict(ST_CPX, size=11)],
    [dict(ST_PL, size=9)],
    [dict(ST_GM, size=11), dict(ST_GMX, size=7)],
    [dict(ST_PM, size=29)],
    [dict(ST_RK, size=19)],
]
for row, (label, styles) in enumerate(zip(LEGEND_LABELS, LEGEND_STYLES)):
    for st in styles:
        fig.add_trace(go.Scatter(x=[0.09], y=[row], mode="markers", marker=st,
                                 xaxis="x8", yaxis="y8", cliponaxis=False))
    annotations.append(dict(x=0.153, y=row, xref="x8", yref="y8", text=label, showarrow=False,
                            xanchor="left", yanchor="middle",
                            font=dict(family=SERIF, size=27, color="black")))

fig.update_layout(
    template="none",
    width=W, height=H,
    margin=dict(l=0, r=0, t=0, b=0, pad=0, autoexpand=False),
    paper_bgcolor="white", plot_bgcolor="white",
    showlegend=False,
    font=dict(family=SERIF, color="black"),
    annotations=annotations,
    shapes=[dict(type="rect", xref="paper", yref="paper",
                 x0=px_x(lx0), x1=px_x(lx1), y0=px_y(ly1), y1=px_y(ly0),
                 line=dict(color="black", width=2), fillcolor="rgba(0,0,0,0)")],
    **axes,
)

# remove the browser's default 8px page margin so the figure sits at the window origin
fig.write_html("out.html",
               config={"displayModeBar": False},
               post_script="document.body.style.margin='0px';"
                           "document.documentElement.style.overflow='hidden';"
                           "document.body.style.overflow='hidden';")
